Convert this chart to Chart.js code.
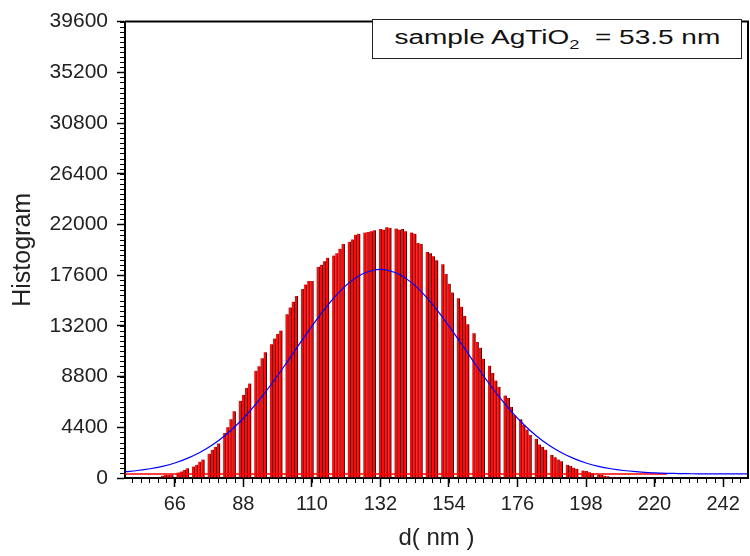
<!DOCTYPE html>
<html>
<head>
<meta charset="utf-8">
<script src="https://cdn.jsdelivr.net/npm/chart.js@4"></script>
<style>
  html, body { margin: 0; padding: 0; background: #fff; }
  #wrap { position: relative; width: 750px; height: 556px; }
  #note {
    position: absolute; left: 372px; top: 19px; width: 370px; height: 40px;
    box-sizing: border-box; border: 1.5px solid #222; background: #fff;
    font-family: "Liberation Sans", Arial, sans-serif; font-size: 20px; color: #111;
    display: flex; align-items: center; justify-content: center;
  }
  #note span { display: inline-block; transform: scaleX(1.4); white-space: pre; }
  #note sub { font-size: 13px; }
</style>
</head>
<body>
<div id="wrap">
  <canvas id="histChart" width="750" height="556"></canvas>
  <div id="note"><span>sample AgTiO<sub>2</sub>  = 53.5 nm</span></div>
</div>
<script>
// histogram bins (d in nm), every fifth bin is empty in the original
const binCenters = [
  55, 56, 57, 58, 59, 60, 61, 62, 63, 64,
  65, 66, 67, 68, 69, 70, 71, 72, 73, 74,
  75, 76, 77, 78, 79, 80, 81, 82, 83, 84,
  85, 86, 87, 88, 89, 90, 91, 92, 93, 94,
  95, 96, 97, 98, 99, 100, 101, 102, 103, 104,
  105, 106, 107, 108, 109, 110, 111, 112, 113, 114,
  115, 116, 117, 118, 119, 120, 121, 122, 123, 124,
  125, 126, 127, 128, 129, 130, 131, 132, 133, 134,
  135, 136, 137, 138, 139, 140, 141, 142, 143, 144,
  145, 146, 147, 148, 149, 150, 151, 152, 153, 154,
  155, 156, 157, 158, 159, 160, 161, 162, 163, 164,
  165, 166, 167, 168, 169, 170, 171, 172, 173, 174,
  175, 176, 177, 178, 179, 180, 181, 182, 183, 184,
  185, 186, 187, 188, 189, 190, 191, 192, 193, 194,
  195, 196, 197, 198, 199, 200, 201, 202, 203, 204,
  205, 206, 207, 208, 209, 210, 211, 212, 213, 214,
  215, 237
];
const counts = [
  20, null, 30, 40, 50, 60, null, 200, 260, 250,
  300, null, 480, 560, 700, 850, null, 1000, 1150, 1400,
  1600, null, 2100, 2450, 2700, 3000, null, 3900, 4400, 5100,
  5800, null, 6700, 7200, 7800, 8200, null, 9300, 9700, 10400,
  10900, null, 11600, 12100, 12500, 12800, null, 14200, 14800, 15300,
  15800, null, 16400, 16800, 17100, 17100, null, 18300, 18500, 18800,
  19100, null, 19300, 19500, 19900, 20300, null, 20500, 20700, 21100,
  21200, null, 21300, 21350, 21400, 21500, null, 21600, 21550, 21750,
  21700, null, 21650, 21550, 21600, 21400, null, 21300, 21200, 20400,
  20300, null, 19600, 19500, 19250, 18900, null, 18550, 17700, 16850,
  16100, null, 15600, 14850, 14050, 13350, null, 12550, 11800, 11300,
  10350, null, 9750, 9100, 8450, 7900, null, 7150, 6950, 6150,
  5450, null, 5100, 4600, 4200, 3750, null, 3400, 2900, 2700,
  2450, null, 2000, 1800, 1600, 1450, null, 1150, 1050, 900,
  800, null, 650, 600, 500, 420, null, 300, 260, 200,
  160, null, 110, 90, 70, 60, null, 40, 30, 20,
  15, 60
];

// fitted curve (blue)
const fitX = [50, 54, 58, 62, 66, 70, 74, 78, 82, 86, 90, 94, 98, 102, 106, 110, 114, 118, 122, 126, 130, 132,
  134, 138, 142, 146, 150, 154, 158, 162, 166, 170, 174, 178, 182, 186, 190, 194, 198, 202, 206, 210, 214,
  218, 222, 226, 230, 234, 238, 242, 246, 250];
const fitY = [545, 650, 800, 1010, 1300, 1700, 2210, 2860, 3670, 4640, 5780, 7080, 8520, 10050, 11630, 13180,
  14630, 15910, 16950, 17680, 18050, 18100, 18050, 17680, 16950, 15910, 14630, 13180, 11630, 10050, 8520, 7080,
  5780, 4640, 3670, 2860, 2210, 1700, 1300, 1010, 800, 650, 545, 474, 427, 397, 378, 365, 360, 356, 354, 352];

// red baseline
const baseX = [50, 224];
const baseY = [350, 350];

const xTicks = [66, 88, 110, 132, 154, 176, 198, 220, 242];
const yTicks = [0, 4400, 8800, 13200, 17600, 22000, 26400, 30800, 35200, 39600];

Chart.defaults.font.family = '"Liberation Sans", Arial, sans-serif';
Chart.defaults.color = "#222";

// minor ticks and the top/right frame
const extras = {
  id: "extras",
  afterDraw(chart) {
    const c = chart.ctx, a = chart.chartArea;
    const x = chart.scales.x, y = chart.scales.y;
    c.save();
    c.strokeStyle = "#000";
    c.lineWidth = 1;
    c.beginPath();
    for (let v = 52.25; v <= 250; v += 2.75) {
      const px = Math.round(x.getPixelForValue(v)) + 0.5;
      c.moveTo(px, a.bottom);
      c.lineTo(px, a.bottom + 5);
    }
    for (let v = 0; v <= 39600; v += 440) {
      const py = Math.round(y.getPixelForValue(v)) + 0.5;
      c.moveTo(a.left, py);
      c.lineTo(a.left - 5, py);
    }
    c.stroke();
    c.lineWidth = 2;
    c.beginPath();
    c.moveTo(a.left, a.top);
    c.lineTo(a.right, a.top);
    c.lineTo(a.right, a.bottom);
    c.stroke();
    c.restore();
  }
};

new Chart(document.getElementById("histChart"), {
  type: "bar",
  data: {
    datasets: [
      {
        type: "line",
        data: fitX.map((x, i) => ({ x, y: fitY[i] })),
        borderColor: "#0000ff",
        borderWidth: 1.2,
        pointRadius: 0,
        tension: 0.4,
        order: 1
      },
      {
        type: "line",
        data: baseX.map((x, i) => ({ x, y: baseY[i] })),
        borderColor: "#ff0000",
        borderWidth: 1.5,
        pointRadius: 0,
        order: 2
      },
      {
        type: "bar",
        data: binCenters.map((x, i) => ({ x, y: counts[i] })),
        backgroundColor: "#ff0a0a",
        borderColor: "#1a0000",
        borderWidth: { top: 0, right: 1, bottom: 0, left: 0 },
        borderSkipped: "start",
        barPercentage: 1,
        categoryPercentage: 1,
        order: 3
      }
    ]
  },
  options: {
    responsive: false,
    animation: false,
    layout: { padding: { top: 16, right: 2, left: 0, bottom: 0 } },
    plugins: {
      legend: { display: false },
      tooltip: { enabled: false }
    },
    scales: {
      x: {
        type: "linear",
        min: 50,
        max: 250,
        offset: false,
        afterBuildTicks: s => { s.ticks = xTicks.map(v => ({ value: v })); },
        afterFit: s => { s.height = 78; },
        grid: { offset: false, drawOnChartArea: false, drawTicks: true, tickLength: 9, tickWidth: 1.5, tickColor: "#000" },
        border: { display: true, color: "#000", width: 2 },
        ticks: { font: { size: 20 }, padding: 5, maxRotation: 0, autoSkip: false, color: "#222", callback: v => String(v) },
        title: { display: true, text: "d( nm )", font: { size: 24 }, color: "#222", padding: { top: 0, bottom: 3 } }
      },
      y: {
        type: "linear",
        min: 0,
        max: 39600,
        afterBuildTicks: s => { s.ticks = yTicks.map(v => ({ value: v })); },
        afterFit: s => { s.width = 125; },
        grid: { drawOnChartArea: false, drawTicks: true, tickLength: 8, tickWidth: 1.5, tickColor: "#000" },
        border: { display: true, color: "#000", width: 2 },
        ticks: { font: { size: 21 }, padding: 9, color: "#222", callback: v => String(v) },
        title: { display: true, text: "Histogram", font: { size: 25 }, color: "#222", padding: { top: 8, bottom: 0 } }
      }
    }
  },
  plugins: [extras]
});
</script>
</body>
</html>
